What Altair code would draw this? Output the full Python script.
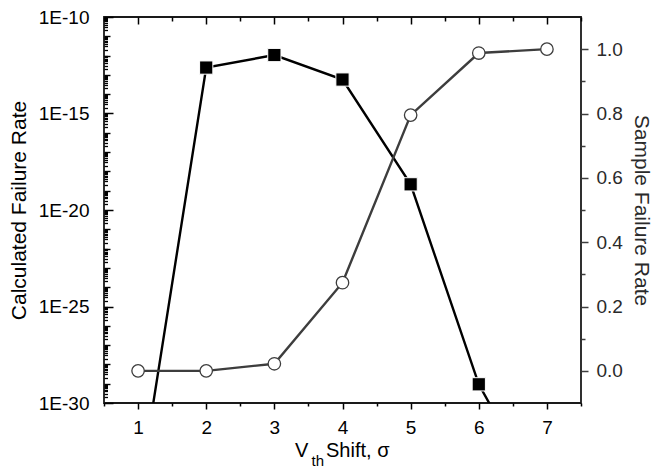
import altair as alt
import pandas as pd

# ---- data ----
x_shift = [1, 2, 3, 4, 5, 6, 7]
calc_rate = [1.0e-35, 2.4e-13, 1.07e-12, 5.75e-14, 2.14e-19, 9.3e-30, 4.0e-36]
sample_rate = [0.0, 0.0, 0.022, 0.274, 0.795, 0.988, 1.0]

# ---- tick values / labels ----
x_major = [1, 2, 3, 4, 5, 6, 7]
x_minor = [0.5, 1.5, 2.5, 3.5, 4.5, 5.5, 6.5, 7.5]
left_major = [1e-30, 1e-25, 1e-20, 1e-15, 1e-10]
left_decades = [10.0 ** k for k in range(-29, -10) if k % 5 != 0]
left_minor = [m * 10.0 ** k for k in range(-30, -10) for m in range(2, 10)]
right_major = [0.0, 0.2, 0.4, 0.6, 0.8, 1.0]
right_minor = [0.1, 0.3, 0.5, 0.7, 0.9]
x_title_parts = ["V", "th", "Shift, σ"]
left_title = "Calculated Failure Rate"
right_title = "Sample Failure Rate"

df = pd.DataFrame({"x": x_shift, "calc": calc_rate, "sample": sample_rate})

FONT = "Liberation Sans"
GRAY = "#3d3d3d"

xscale = alt.Scale(domain=[0.5, 7.5], nice=False, zero=False)
lscale = alt.Scale(type="log", domain=[1e-30, 1e-10], nice=False)
rscale = alt.Scale(domain=[-0.1, 1.1], nice=False, zero=False)

common = dict(grid=False, domain=False, labelFlush=False, labelOverlap=False,
              labelFont=FONT, titleFont=FONT, titleFontWeight="normal")

ax_bottom_major = alt.Axis(orient="bottom", values=x_major, tickSize=6, tickWidth=1.5,
                           tickColor="black", labelPadding=9, labelFontSize=19,
                           labelColor="black", format="d", title=None, **common)
ax_bottom_minor = alt.Axis(orient="bottom", values=x_minor, tickSize=3, tickWidth=1.5,
                           tickColor="black", labels=False, title=None, **common)
ax_top_major = alt.Axis(orient="top", values=x_major, tickSize=7, offset=-7, tickWidth=1.5,
                        tickColor="black", labels=False, title=None, **common)
ax_top_minor = alt.Axis(orient="top", values=x_minor, tickSize=4, offset=-4, tickWidth=1.5,
                        tickColor="black", labels=False, title=None, **common)

ax_left_major = alt.Axis(orient="left", values=left_major, tickSize=9, offset=-9, tickWidth=1.5,
                         tickColor="black", labelPadding=15, labelFontSize=19,
                         labelColor="black",
                         labelExpr="'1E' + round(log(datum.value) / LN10)",
                         title=left_title, titleFontSize=21, titleColor="black",
                         titlePadding=9, **common)
ax_left_decade = alt.Axis(orient="left", values=left_decades, tickSize=6, offset=-6,
                          tickWidth=1.4, tickColor="black", labels=False, title=None, **common)
ax_left_minor = alt.Axis(orient="left", values=left_minor, tickSize=3.5, offset=-3.5,
                         tickWidth=1.3, tickColor="black", labels=False, title=None, **common)

ax_right_major = alt.Axis(orient="right", values=right_major, tickSize=7, tickWidth=1.5,
                          tickColor=GRAY, labelPadding=8, labelFontSize=19,
                          labelColor="#2a2a2a", format=".1f",
                          title=right_title, titleFontSize=21, titleColor="#2a2a2a",
                          titlePadding=8, **common)
ax_right_minor = alt.Axis(orient="right", values=right_minor, tickSize=4, tickWidth=1.5,
                          tickColor=GRAY, labels=False, title=None, **common)

base = alt.Chart(df)

calc_line = base.mark_line(color="black", strokeWidth=2.4, clip=True).encode(
    x=alt.X("x:Q", scale=xscale, axis=ax_bottom_major),
    y=alt.Y("calc:Q", scale=lscale, axis=ax_left_major),
)
calc_decade_axis = base.mark_point(opacity=0, clip=True).encode(
    x=alt.X("x:Q", scale=xscale, axis=None),
    y=alt.Y("calc:Q", scale=lscale, axis=ax_left_decade),
)
sample_line = base.mark_line(color=GRAY, strokeWidth=2.4, clip=True).encode(
    x=alt.X("x:Q", scale=xscale, axis=ax_top_major),
    y=alt.Y("sample:Q", scale=rscale, axis=ax_right_major),
)
calc_pts = base.mark_point(shape="square", filled=True, fill="black", stroke="white",
                           strokeWidth=1, size=175, opacity=1, clip=True).encode(
    x=alt.X("x:Q", scale=xscale, axis=ax_bottom_minor),
    y=alt.Y("calc:Q", scale=lscale, axis=ax_left_minor),
)
sample_pts = base.mark_point(shape="circle", filled=True, fill="white", stroke=GRAY,
                             strokeWidth=1.3, size=155, opacity=1, clip=True).encode(
    x=alt.X("x:Q", scale=xscale, axis=ax_top_minor),
    y=alt.Y("sample:Q", scale=rscale, axis=ax_right_minor),
)

tdata = alt.Data(values=[{}])
t_v = alt.Chart(tdata).mark_text(text=x_title_parts[0], font=FONT, fontSize=20, align="left",
                                 baseline="alphabetic", color="black").encode(
    x=alt.value(191), y=alt.value(439.5))
t_th = alt.Chart(tdata).mark_text(text=x_title_parts[1], font=FONT, fontSize=15, align="left",
                                  baseline="alphabetic", color="black").encode(
    x=alt.value(207.5), y=alt.value(448.5))
t_rest = alt.Chart(tdata).mark_text(text=x_title_parts[2], font=FONT, fontSize=20, align="left",
                                    baseline="alphabetic", color="black").encode(
    x=alt.value(222), y=alt.value(439.5))

chart = (
    alt.layer(calc_line, calc_decade_axis, sample_line, calc_pts, sample_pts,
              t_v, t_th, t_rest)
    .resolve_scale(y="independent")
    .resolve_axis(x="independent", y="independent")
    .properties(width=477, height=386,
                padding={"left": 104, "top": 17, "right": 74, "bottom": 65},
                autosize=alt.AutoSizeParams(type="none"))
    .configure_view(stroke="#1a1a1a", strokeWidth=1.8)
)

chart.save("out.html", embed_options={"renderer": "svg", "actions": False})
